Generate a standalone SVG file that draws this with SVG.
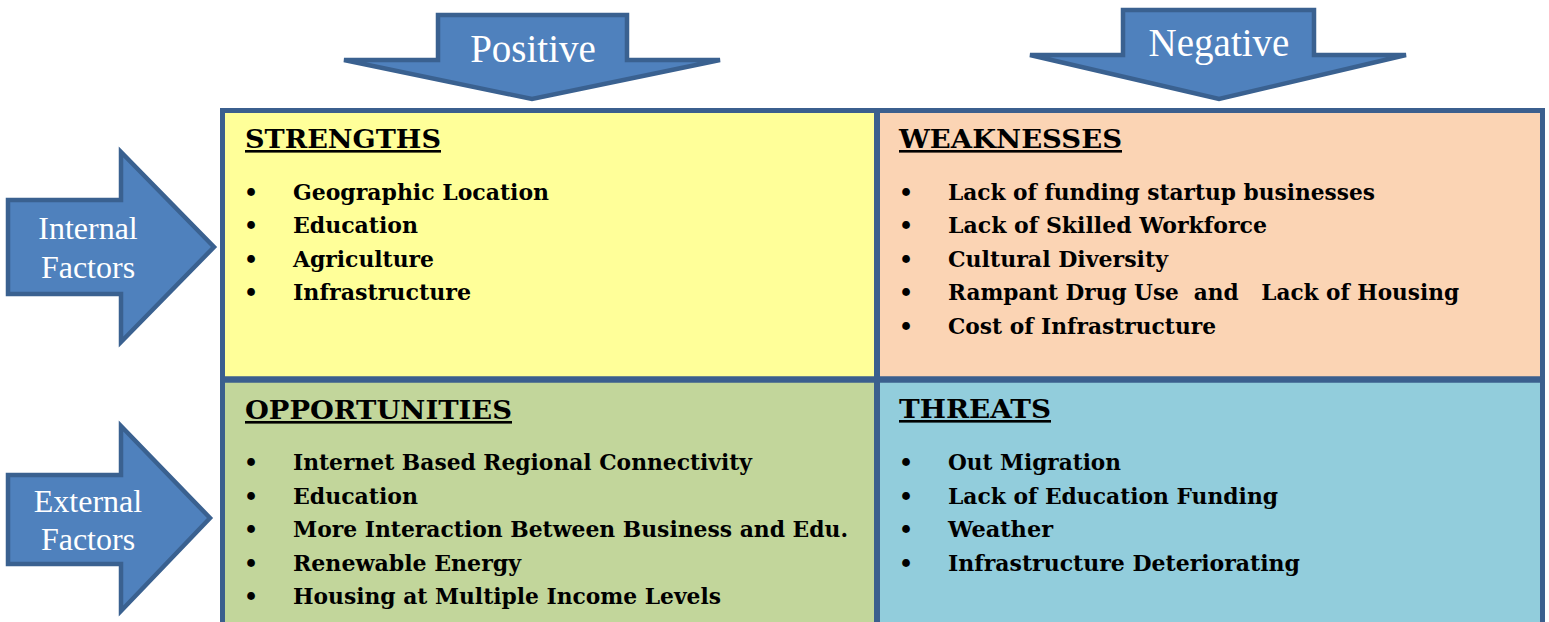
<svg xmlns="http://www.w3.org/2000/svg" width="1549" height="622" viewBox="0 0 1549 622">
  <style>
    .arrow { fill: #4F81BD; stroke: #3A6190; stroke-width: 4.5; stroke-linejoin: miter; }
    .alabel { font-family: "Liberation Serif", "Times New Roman", serif; fill: #FFFFFF; text-anchor: middle; }
    .frame { stroke: #3B5F8E; fill: none; }
    .head { font-family: "DejaVu Serif", Georgia, serif; font-weight: bold; font-size: 26px; fill: #000000; text-decoration: underline; }
    .item { font-family: "DejaVu Serif", Georgia, serif; font-weight: bold; font-size: 22px; fill: #000000; }
    .dot { font-family: "DejaVu Serif", Georgia, serif; font-weight: bold; font-size: 22px; fill: #000000; text-anchor: middle; }
  </style>
  <rect width="1549" height="622" fill="#FFFFFF"/>

  <!-- column headings -->
  <g id="positive">
    <polygon class="arrow" points="438,15 627,15 627,60 720,60 532,99 344,60 438,60"/>
    <text class="alabel" x="533" y="62" font-size="39">Positive</text>
  </g>
  <g id="negative">
    <polygon class="arrow" points="1123,10 1314,10 1314,55 1406,55 1219,99 1030,55 1123,55"/>
    <text class="alabel" x="1219" y="56" font-size="39">Negative</text>
  </g>

  <!-- row headings -->
  <g id="internal-factors">
    <polygon class="arrow" points="8,200 121,200 121,152 214,247 121,342 121,294 8,294"/>
    <text class="alabel" x="88" y="239" font-size="32">Internal</text>
    <text class="alabel" x="88" y="278" font-size="32">Factors</text>
  </g>
  <g id="external-factors">
    <polygon class="arrow" points="8,475 121,475 121,426 210,518 121,611 121,564 8,564"/>
    <text class="alabel" x="88" y="512" font-size="32">External</text>
    <text class="alabel" x="88" y="550" font-size="32">Factors</text>
  </g>

  <!-- quadrants -->
  <g id="strengths">
    <rect x="222" y="110" width="655" height="270" fill="#FFFF99"/>
    <text class="head" x="245" y="148" textLength="196" lengthAdjust="spacingAndGlyphs">STRENGTHS</text>
    <g>
      <text class="dot" x="251" y="200">•</text>
      <text class="item" x="293" y="200" textLength="256" lengthAdjust="spacingAndGlyphs">Geographic Location</text>
      <text class="dot" x="251" y="233">•</text>
      <text class="item" x="293" y="233" textLength="125" lengthAdjust="spacingAndGlyphs">Education</text>
      <text class="dot" x="251" y="267">•</text>
      <text class="item" x="293" y="267" textLength="141" lengthAdjust="spacingAndGlyphs">Agriculture</text>
      <text class="dot" x="251" y="300">•</text>
      <text class="item" x="293" y="300" textLength="178" lengthAdjust="spacingAndGlyphs">Infrastructure</text>
    </g>
  </g>

  <g id="weaknesses">
    <rect x="877" y="110" width="666" height="270" fill="#FBD4B4"/>
    <text class="head" x="899" y="148" textLength="223" lengthAdjust="spacingAndGlyphs">WEAKNESSES</text>
    <g>
      <text class="dot" x="906" y="200">•</text>
      <text class="item" x="948" y="200" textLength="427" lengthAdjust="spacingAndGlyphs">Lack of funding startup businesses</text>
      <text class="dot" x="906" y="233">•</text>
      <text class="item" x="948" y="233" textLength="319" lengthAdjust="spacingAndGlyphs">Lack of Skilled Workforce</text>
      <text class="dot" x="906" y="267">•</text>
      <text class="item" x="948" y="267" textLength="220" lengthAdjust="spacingAndGlyphs">Cultural Diversity</text>
      <text class="dot" x="906" y="300">•</text>
      <text class="item" x="948" y="300" textLength="511" lengthAdjust="spacingAndGlyphs" xml:space="preserve">Rampant Drug Use  and   Lack of Housing</text>
      <text class="dot" x="906" y="334">•</text>
      <text class="item" x="948" y="334" textLength="268" lengthAdjust="spacingAndGlyphs">Cost of Infrastructure</text>
    </g>
  </g>

  <g id="opportunities">
    <rect x="222" y="380" width="655" height="250" fill="#C2D69B"/>
    <text class="head" x="245" y="419" textLength="267" lengthAdjust="spacingAndGlyphs">OPPORTUNITIES</text>
    <g>
      <text class="dot" x="251" y="470">•</text>
      <text class="item" x="293" y="470" textLength="459" lengthAdjust="spacingAndGlyphs">Internet Based Regional Connectivity</text>
      <text class="dot" x="251" y="504">•</text>
      <text class="item" x="293" y="504" textLength="125" lengthAdjust="spacingAndGlyphs">Education</text>
      <text class="dot" x="251" y="537">•</text>
      <text class="item" x="293" y="537" textLength="555" lengthAdjust="spacingAndGlyphs">More Interaction Between Business and Edu.</text>
      <text class="dot" x="251" y="571">•</text>
      <text class="item" x="293" y="571" textLength="228" lengthAdjust="spacingAndGlyphs">Renewable Energy</text>
      <text class="dot" x="251" y="604">•</text>
      <text class="item" x="293" y="604" textLength="428" lengthAdjust="spacingAndGlyphs">Housing at Multiple Income Levels</text>
    </g>
  </g>

  <g id="threats">
    <rect x="877" y="380" width="666" height="250" fill="#92CDDC"/>
    <text class="head" x="899" y="418" textLength="152" lengthAdjust="spacingAndGlyphs">THREATS</text>
    <g>
      <text class="dot" x="906" y="470">•</text>
      <text class="item" x="948" y="470" textLength="173" lengthAdjust="spacingAndGlyphs">Out Migration</text>
      <text class="dot" x="906" y="504">•</text>
      <text class="item" x="948" y="504" textLength="330" lengthAdjust="spacingAndGlyphs">Lack of Education Funding</text>
      <text class="dot" x="906" y="537">•</text>
      <text class="item" x="948" y="537" textLength="105" lengthAdjust="spacingAndGlyphs">Weather</text>
      <text class="dot" x="906" y="571">•</text>
      <text class="item" x="948" y="571" textLength="352" lengthAdjust="spacingAndGlyphs">Infrastructure Deteriorating</text>
    </g>
  </g>

  <!-- grid frame and dividers -->
  <g id="connectors">
    <rect class="frame" x="222.5" y="110.5" width="1320" height="530" stroke-width="5"/>
    <line class="frame" x1="877" y1="108" x2="877" y2="630" stroke-width="6"/>
    <line class="frame" x1="220" y1="379.5" x2="1545" y2="379.5" stroke-width="6.5"/>
  </g>
</svg>
